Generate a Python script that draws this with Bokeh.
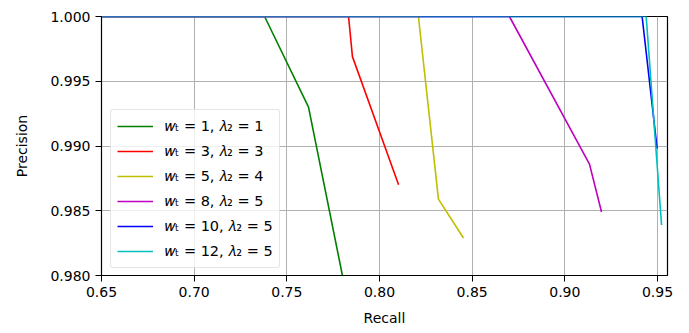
from bokeh.plotting import figure
from bokeh.models import Range1d, FixedTicker, NumeralTickFormatter, Legend, LegendItem
from bokeh.embed import file_html
from bokeh.resources import INLINE

# Data
labels = ["𝑤ₜ = 1, 𝜆₂ = 1", "𝑤ₜ = 3, 𝜆₂ = 3", "𝑤ₜ = 5, 𝜆₂ = 4",
          "𝑤ₜ = 8, 𝜆₂ = 5", "𝑤ₜ = 10, 𝜆₂ = 5", "𝑤ₜ = 12, 𝜆₂ = 5"]
colors = ["#008000", "#ff0000", "#bfbf00", "#bf00bf", "#0000ff", "#00bfbf"]
recall_1 = [0.65, 0.738, 0.7617, 0.780]
precision_1 = [1.0, 1.0, 0.993, 0.980]
recall_2 = [0.65, 0.7833, 0.7854, 0.8103]
precision_2 = [1.0, 1.0, 0.9969, 0.9870]
recall_3 = [0.65, 0.821, 0.8318, 0.8453]
precision_3 = [1.0, 1.0, 0.9859, 0.9829]
recall_4 = [0.65, 0.8701, 0.9133, 0.9198]
precision_4 = [1.0, 1.0, 0.9886, 0.9849]
recall_5 = [0.65, 0.9417, 0.9498]
precision_5 = [1.0, 1.0, 0.9898]
recall_6 = [0.65, 0.9439, 0.9522]
precision_6 = [1.0, 1.0, 0.9839]
x_ticks = [0.65, 0.70, 0.75, 0.80, 0.85, 0.90, 0.95]
y_ticks = [0.980, 0.985, 0.990, 0.995, 1.000]

recalls = [recall_1, recall_2, recall_3, recall_4, recall_5, recall_6]
precisions = [precision_1, precision_2, precision_3, precision_4, precision_5, precision_6]

FONT = "DejaVu Sans"

p = figure(width=681, height=333, output_backend="svg", toolbar_location=None,
           x_range=Range1d(0.65, 0.9554), y_range=Range1d(0.980, 1.000),
           min_border_left=101, min_border_right=14, min_border_top=16, min_border_bottom=58)

p.outline_line_color = "black"
p.outline_line_width = 1.2
p.background_fill_color = "white"
p.border_fill_color = "white"

for ax in (p.xaxis[0], p.yaxis[0]):
    ax.major_label_text_font = FONT
    ax.major_label_text_font_size = "14px"
    ax.major_label_text_color = "black"
    ax.axis_label_text_font = FONT
    ax.axis_label_text_font_size = "14px"
    ax.axis_label_text_font_style = "normal"
    ax.axis_label_text_color = "black"
    ax.minor_tick_line_color = None
    ax.major_tick_in = 0
    ax.major_tick_out = 6
    ax.major_tick_line_color = "black"
    ax.axis_line_color = "black"

p.xaxis.ticker = FixedTicker(ticks=x_ticks)
p.yaxis.ticker = FixedTicker(ticks=y_ticks)
p.xaxis.formatter = NumeralTickFormatter(format="0.00")
p.yaxis.formatter = NumeralTickFormatter(format="0.000")
p.xaxis.axis_label = "Recall"
p.yaxis.axis_label = "Precision"
p.xaxis.major_label_standoff = 5
p.yaxis.major_label_standoff = 5
p.xaxis.axis_label_standoff = 10
p.yaxis.axis_label_standoff = 17

p.grid.grid_line_color = "#b0b0b0"
p.grid.grid_line_width = 1

items = []
for r, pr, c, lab in zip(recalls, precisions, colors, labels):
    g = p.line(r, pr, line_color=c, line_width=1.6)
    items.append(LegendItem(label=lab, renderers=[g]))

legend = Legend(items=items, location=(9, 7))
legend.label_text_font = FONT
legend.label_text_font_size = "14.5px"
legend.label_text_color = "black"
legend.glyph_width = 36
legend.glyph_height = 20
legend.label_height = 20
legend.label_standoff = 12
legend.spacing = 5
legend.padding = 6
legend.margin = 0
legend.border_line_color = "#cccccc"
legend.border_line_width = 1
legend.border_radius = 3
legend.background_fill_color = "white"
legend.background_fill_alpha = 0.8
p.add_layout(legend, "center")

open("out.html", "w").write(file_html(p, INLINE))
